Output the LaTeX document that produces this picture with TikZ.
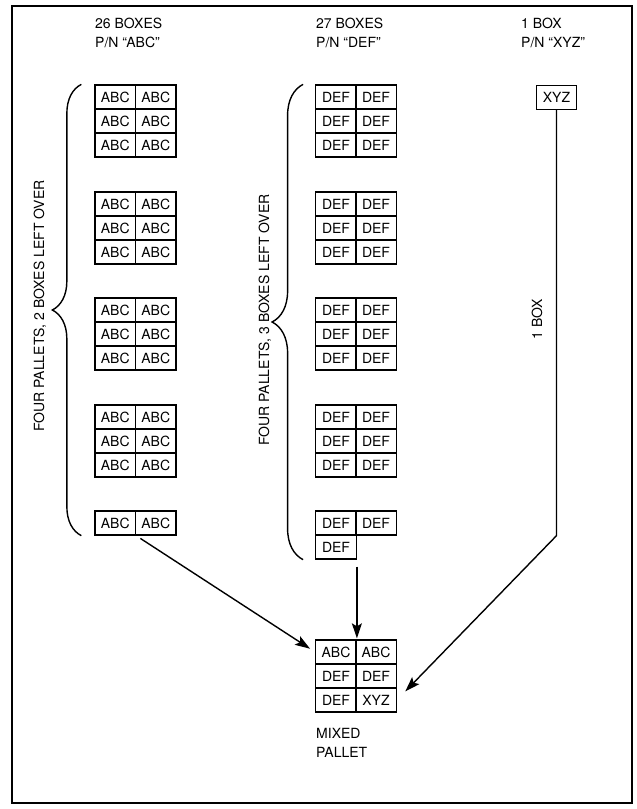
\documentclass[tikz,border=0pt]{standalone}
\usepackage{fontspec}
\setmainfont{TeX Gyre Heros}
\usetikzlibrary{arrows.meta,positioning,decorations.pathreplacing,calc}
\newcommand{\boxfont}{\fontsize{14}{19}\selectfont}
\tikzset{
  cellbox/.style={rectangle,draw=black,line width=1.3pt,minimum width=40.5pt,
                  minimum height=24pt,inner sep=0pt,font=\boxfont},
  titlenode/.style={anchor=north west,align=left,inner sep=0pt,font=\boxfont},
  sidelabel/.style={rotate=90,inner sep=0pt,font=\boxfont},
  bracepath/.style={decorate,decoration={brace,amplitude=#1},line width=1.4pt},
  arr/.style={-{Stealth[length=15pt,width=10pt,inset=3pt]},line width=1.4pt},
  frameline/.style={line width=1.9pt}
}

\begin{document}
\begin{tikzpicture}[x=1pt,y=-1pt]
  \useasboundingbox (0,0) rectangle (637,809);

  % outer frame
  \draw[frameline] (12,6) rectangle (632,803);

  % column titles
  \node[titlenode] (tabc) at (95,18) {26 BOXES\\P/N ``ABC''};
  \node[titlenode] (tdef) at (316,18) {27 BOXES\\P/N ``DEF''};
  \node[titlenode] (txyz) at (521,18) {1 BOX\\P/N ``XYZ''};

  % full pallets
  \foreach \p/\y in {1/85,2/192,3/298,4/405}
    \foreach \r in {1,2,3}
      \foreach \c in {1,2} {
        \node[cellbox] (abc-\p-\r-\c) at ({95+40.5*\c-20.25},{\y+24*\r-12}) {ABC};
        \node[cellbox] (def-\p-\r-\c) at ({316+40*\c-20},{\y+24*\r-12}) {DEF};
      }

  % boxes left over
  \node[cellbox] (abcL-1) at (115.25,523) {ABC};
  \node[cellbox] (abcL-2) at (155.75,523) {ABC};
  \node[cellbox] (defL-1-1) at (336,523) {DEF};
  \node[cellbox] (defL-1-2) at (376,523) {DEF};
  \node[cellbox] (defL-2-1) at (336,547) {DEF};
  \node[cellbox] (xyz) at (556.5,97.5) {XYZ};

  % braces
  \draw[bracepath=29pt] ([xshift=-13pt]abcL-1.south west) -- ([xshift=-13pt]abc-1-1-1.north west);
  \draw[bracepath=31pt] ([xshift=-12pt]defL-2-1.south west) -- ([xshift=-12pt]def-1-1-1.north west);
  \node[sidelabel] (abcnote) at (40,306) {FOUR PALLETS, 2 BOXES LEFT OVER};
  \node[sidelabel] (defnote) at (265,320) {FOUR PALLETS, 3 BOXES LEFT OVER};
  \node[sidelabel] (xyznote) at (537,319) {1 BOX};

  % mixed pallet
  \node[cellbox] (mix-1-1) at (336,652) {ABC};
  \node[cellbox] (mix-1-2) at (376,652) {ABC};
  \node[cellbox] (mix-2-1) at (336,676) {DEF};
  \node[cellbox] (mix-2-2) at (376,676) {DEF};
  \node[cellbox] (mix-3-1) at (336,700) {DEF};
  \node[cellbox] (mix-3-2) at (376,700) {XYZ};
  \node[titlenode] (mixlabel) at (316,728) {MIXED\\PALLET};

  % flows to the mixed pallet
  \coordinate (xyzbend) at (xyz.south |- defL-1-2.south);
  \draw[arr,shorten <=5pt,shorten >=6pt] (abcL-1.south east) -- (mix-1-1.west);
  \draw[arr,shorten <=7pt,shorten >=1pt] (defL-2-1.south east) -- (mix-1-1.north east);
  \draw[arr,shorten >=12pt] (xyz.south) -- (xyzbend) -- (mix-3-2.east);

\end{tikzpicture}
\end{document}
